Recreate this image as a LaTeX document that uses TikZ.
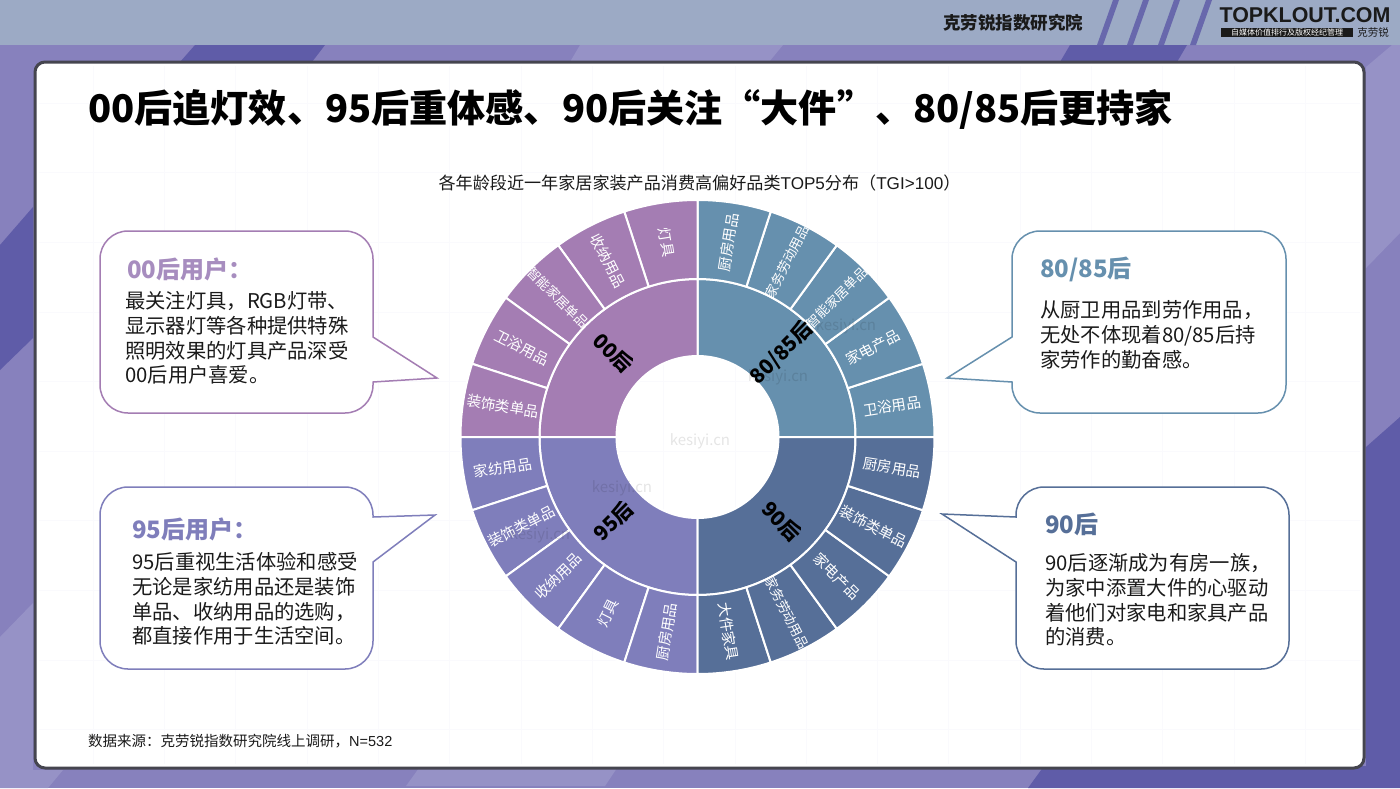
\documentclass[tikz,border=0pt]{standalone}
\usepackage{fontspec}
\setmainfont{Noto Sans CJK SC}
\newfontfamily\arialfont{Liberation Sans}

\definecolor{BgBase}{HTML}{8781BD}
\definecolor{BgDark}{HTML}{5F5CA8}
\definecolor{BgLight}{HTML}{9692C6}
\definecolor{BgHeader}{HTML}{9CAAC5}
\definecolor{PanelEdge}{HTML}{45454F}
\definecolor{PanelGrid}{HTML}{FAFAFD}
\definecolor{GraphOO}{HTML}{A47DB3}
\definecolor{GraphEight}{HTML}{6690AE}
\definecolor{GraphNinety}{HTML}{566F98}
\definecolor{GraphNinetyFive}{HTML}{7F7EBB}
\definecolor{HeadOO}{HTML}{A78DBF}
\definecolor{BodyText}{HTML}{1A1A1A}

\tikzstyle{ring-sector}=[draw=white, line width=2pt, line join=round]
\tikzstyle{ring-label}=[text=white, inner sep=0pt]
\tikzstyle{age-label}=[text=black, inner sep=0pt, font=\fontsize{20.5}{20.5}\selectfont\bfseries]
\tikzstyle{bubble}=[fill=white, line width=1.5pt, line join=miter]
\tikzstyle{bubble-head}=[anchor=west, inner sep=0pt, font=\fontsize{24}{24}\selectfont\bfseries]
\tikzstyle{bubble-text}=[anchor=west, inner sep=0pt, align=left, text=BodyText, font=\fontsize{20.3}{24.8}\selectfont]
\tikzstyle{watermark}=[text=black, opacity=0.1, inner sep=0pt, font=\fontsize{15}{15}\selectfont]

\begin{document}
\begin{tikzpicture}[x=1pt, y=1pt]
  \useasboundingbox (0,0) rectangle (1400,-788);

  \fill[BgBase] (0,0) rectangle (1400,-788);
  \fill[BgDark] (33,-207) -- (0,-245) -- (0,-370) -- (33,-338) -- cycle;
  \fill[BgLight] (0,-637) -- (33,-603) -- (33,-770) -- (63,-770) -- (48,-788) -- (0,-788) -- cycle;
  \fill[BgLight] (1392,-45) -- (1400,-45) -- (1400,-233) -- (1366,-268) -- (1366,-67) -- cycle;
  \fill[BgDark] (1366,-447) -- (1400,-417) -- (1400,-788) -- (1028,-788) -- (1044,-766) -- (1366,-766) -- cycle;
  \fill[BgDark] (195,-45) -- (325,-45) -- (312,-62) -- (180,-62) -- cycle;
  \fill[BgDark] (1070,-45) -- (1187,-45) -- (1177,-62) -- (1060,-62) -- cycle;
  \fill[BgLight] (580,-45) -- (783,-45) -- (769,-62) -- (570,-62) -- cycle;
  \fill[BgLight] (419,-768) -- (617,-768) -- (605,-786) -- (406,-786) -- cycle;

  \fill[BgHeader] (0,0) rectangle (1400,-45);
  \foreach \xa in {1097,1127,1158,1190}
    \fill[BgDark!85!BgHeader] (\xa,-45) -- (\xa+16,0) -- (\xa+22,0) -- (\xa+6,-45) -- cycle;

  \node (header:institute) at (1013, -23) [inner sep=0pt, text=BodyText, font=\fontsize{17.5}{17.5}\selectfont\bfseries] {克劳锐指数研究院};
  \node (logo:name) at (1305, -15) [inner sep=0pt, text=BodyText, font=\arialfont\fontsize{21.4}{21.4}\selectfont\bfseries] {TOPKLOUT.COM};
  \node (logo:bar) at (1287, -32.5) [fill=BodyText, text=white, inner sep=0pt, minimum width=132pt, minimum height=9pt, font=\fontsize{8}{8}\selectfont] {自媒体价值排行及版权经纪管理};
  \node (logo:cn) at (1373, -33) [inner sep=0pt, text=BodyText, font=\fontsize{10.5}{10.5}\selectfont] {克劳锐};

  \draw[PanelEdge, fill=white, line width=3pt, rounded corners=10pt] (35,-62) rectangle (1364,-768);
  \foreach \i in {0,...,17}
    \draw[PanelGrid] (93+71.3*\i,-66) -- (93+71.3*\i,-764);
  \foreach \j in {0,...,9}
    \draw[PanelGrid] (39,-103-69.6*\j) -- (1360,-103-69.6*\j);

  \node (title) at (88, -109) [anchor=west, inner sep=0pt, text=black, font=\fontsize{38.1}{38.1}\selectfont\bfseries] {00后追灯效、95后重体感、90后关注“大件”、80/85后更持家};
  \node (chart:title) at (695, -183) [inner sep=0pt, text=BodyText, font=\fontsize{17.1}{17.1}\selectfont, xshift=4.5pt] {各年龄段近一年家居家装产品消费高偏好品类{\arialfont TOP5}分布（{\arialfont TGI>100}）};
  \node (source) at (88, -741) [anchor=west, inner sep=0pt, text=BodyText, font=\fontsize{14.5}{14.5}\selectfont] {数据来源：克劳锐指数研究院线上调研，{\arialfont N=532}};

  \begin{scope}[shift={(697.5,-437)}]
    \foreach \first/\col in {0/GraphEight, 90/GraphOO, 180/GraphNinetyFive, 270/GraphNinety} {
      \filldraw[ring-sector, fill=\col] (\first:81) -- (\first:158) arc (\first:\first+90:158) -- (\first+90:81) arc (\first+90:\first:81) -- cycle;
      \foreach \i in {0,...,4} {
        \pgfmathsetmacro{\sa}{\first+18*\i}
        \pgfmathsetmacro{\sb}{\sa+18}
        \filldraw[ring-sector, fill=\col] (\sa:158) -- (\sa:237) arc (\sa:\sb:237) -- (\sb:158) arc (\sb:\sa:158) -- cycle;
      }
    }

    \foreach \ang/\txt/\fs in {9/卫浴用品/14.6, 27/家电产品/14.6, 45/智能家居单品/13.2, 63/家务劳动用品/13.2, 81/厨房用品/14.6, -9/厨房用品/14.6, -27/装饰类单品/14.6, -45/家电产品/14.6, -63/家务劳动用品/13.2, -81/大件家具/14.6}
      \node (ring:\ang) at (\ang:197) [ring-label, rotate=\ang, font=\fontsize{\fs}{\fs}\selectfont] {\txt};
    \foreach \ang/\txt/\fs in {99/灯具/14.6, 117/收纳用品/14.6, 135/智能家居单品/13.2, 153/卫浴用品/14.6, 171/装饰类单品/14.6, 189/家纺用品/14.6, 207/装饰类单品/14.6, 225/收纳用品/14.6, 243/灯具/14.6, 261/厨房用品/14.6}
      \node (ring:\ang) at (\ang:197) [ring-label, rotate=\ang-180, font=\fontsize{\fs}{\fs}\selectfont] {\txt};

    \node (age:00) at (135:119) [age-label, rotate=-45] {00后};
    \node (age:80) at (45:119) [age-label, rotate=45] {80/85后};
    \node (age:90) at (-45:119) [age-label, rotate=-45] {90后};
    \node (age:95) at (225:119) [age-label, rotate=45] {95后};
  \end{scope}

  \node (mark:1) at (700, -441) [watermark] {kesiyi.cn};
  \node (mark:2) at (778, -377) [watermark] {kesiyi.cn};
  \node (mark:3) at (622, -488) [watermark] {kesiyi.cn};
  \node (mark:4) at (846, -326) [watermark] {kesiyi.cn};
  \node (mark:5) at (540, -535) [watermark] {kesiyi.cn};

  \draw[bubble, draw=GraphOO] (128,-231) -- (345,-231) arc (90:0:28) -- (373,-337) -- (437,-378) -- (373,-382) -- (373,-385) arc (0:-90:28) -- (128,-413) arc (-90:-180:28) -- (100,-259) arc (180:90:28) -- cycle;
  \draw[bubble, draw=GraphNinetyFive] (128,-487) -- (345,-487) arc (90:0:28) -- (373,-517) -- (435,-515) -- (373,-562) -- (373,-641) arc (0:-90:28) -- (128,-669) arc (-90:-180:28) -- (100,-515) arc (180:90:28) -- cycle;
  \draw[bubble, draw=GraphEight] (1040,-231) -- (1258,-231) arc (90:0:28) -- (1286,-385) arc (0:-90:28) -- (1040,-413) arc (-90:-180:28) -- (1012,-382) -- (947,-378) -- (1012,-337) -- (1012,-259) arc (180:90:28) -- cycle;
  \draw[bubble, draw=GraphNinety] (1044,-487) -- (1261,-487) arc (90:0:28) -- (1289,-641) arc (0:-90:28) -- (1044,-669) arc (-90:-180:28) -- (1016,-562) -- (942,-514) -- (1016,-517) -- (1016,-515) arc (180:90:28) -- cycle;

  \node (head:00) at (127, -269) [bubble-head, text=HeadOO] {00后用户：};
  \node (text:00) at (125, -338) [bubble-text] {最关注灯具，RGB灯带、\\显示器灯等各种提供特殊\\照明效果的灯具产品深受\\00后用户喜爱。};
  \node (head:95) at (132, -529) [bubble-head, text=GraphNinetyFive] {95后用户：};
  \node (text:95) at (132, -599) [bubble-text] {95后重视生活体验和感受\\无论是家纺用品还是装饰\\单品、收纳用品的选购，\\都直接作用于生活空间。};
  \node (head:80) at (1040, -269) [bubble-head, text=GraphEight] {80/85后};
  \node (text:80) at (1040, -335) [bubble-text] {从厨卫用品到劳作用品，\\无处不体现着80/85后持\\家劳作的勤奋感。};
  \node (head:90) at (1045, -524) [bubble-head, text=GraphNinety] {90后};
  \node (text:90) at (1045, -600) [bubble-text] {90后逐渐成为有房一族，\\为家中添置大件的心驱动\\着他们对家电和家具产品\\的消费。};
\end{tikzpicture}
\end{document}
